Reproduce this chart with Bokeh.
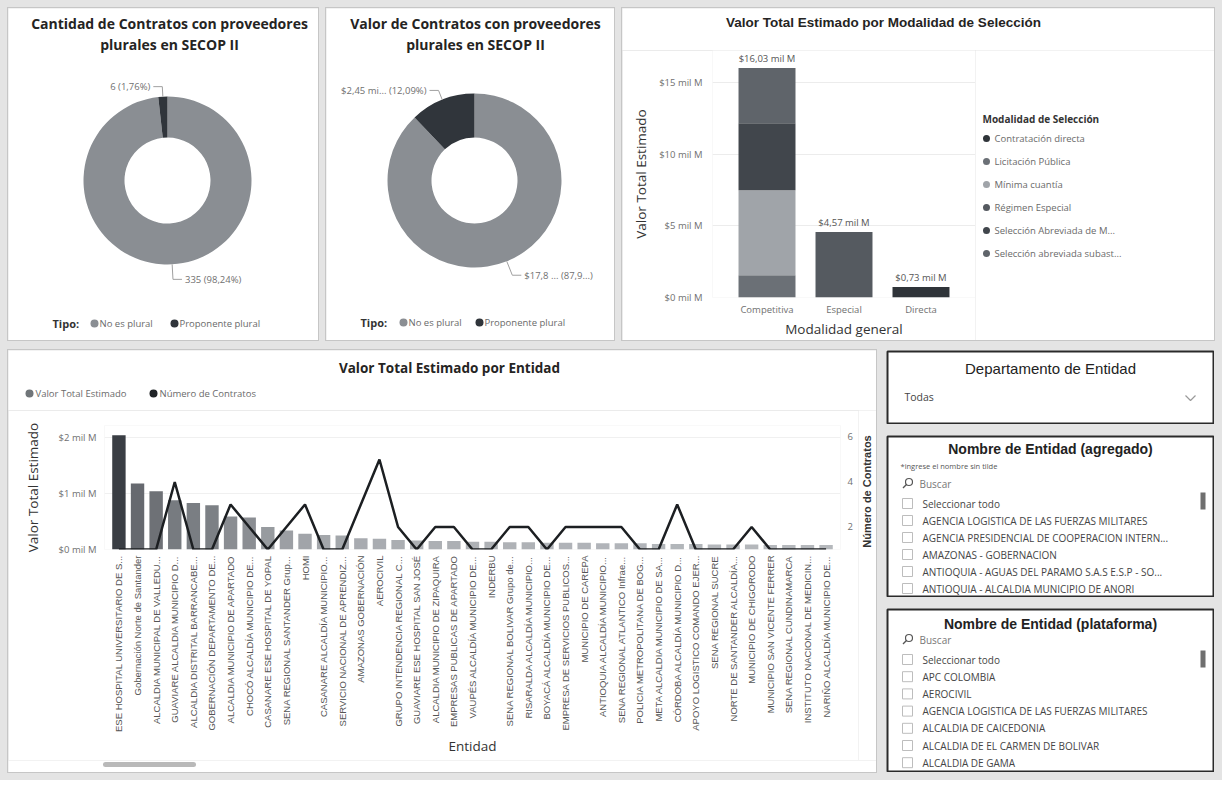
import math
import numpy as np
from bokeh.plotting import figure
from bokeh.layouts import column, row
from bokeh.models import (Range1d, FactorRange, LinearAxis, SingleIntervalTicker,
                          PrintfTickFormatter, ColumnDataSource, Spacer)
from bokeh.core.properties import value
from bokeh.embed import file_html
from bokeh.resources import INLINE

# ---------------- data ----------------
tipo = ["No es plural", "Proponente plural"]
tipo_colores = ["#8a8e93", "#30353b"]
cantidad_contratos = [335, 6]
valor_contratos = [17.81, 2.45]          # mil M
valor_etiquetas = ["$17,8 ... (87,9...)", "$2,45 mi... (12,09%)"]

modalidad_general = ["Competitiva", "Especial", "Directa"]
modalidades = ["Contratación directa", "Licitación Pública", "Mínima cuantía",
               "Régimen Especial", "Selección Abreviada de Menor Cuantía",
               "Selección abreviada subasta inversa"]
modalidades_leyenda = ["Contratación directa", "Licitación Pública", "Mínima cuantía",
                       "Régimen Especial", "Selección Abreviada de M...",
                       "Selección abreviada subast..."]
modalidad_colores = ["#2f3439", "#6b7076", "#a0a4a9", "#555a60", "#41464c", "#5f646a"]
contratacion_directa = [0.0, 0.0, 0.73]
licitacion_publica = [1.55, 0.0, 0.0]
minima_cuantia = [5.94, 0.0, 0.0]
regimen_especial = [0.0, 4.57, 0.0]
seleccion_abreviada_menor = [4.69, 0.0, 0.0]
seleccion_abreviada_subasta = [3.85, 0.0, 0.0]

entidades = [
    "ESE HOSPITAL UNIVERSITARIO DE S...", "Gobernación Norte de Santander",
    "ALCALDIA MUNICIPAL DE VALLEDU...", "GUAVIARE ALCALDIA MUNICIPIO D...",
    "ALCALDIA DISTRITAL BARRANCABE...", "GOBERNACIÓN DEPARTAMENTO DE...",
    "ALCALDIA MUNICIPIO DE APARTADO", "CHOCÓ ALCALDÍA MUNICIPIO DE...",
    "CASANARE ESE HOSPITAL DE YOPAL", "SENA REGIONAL SANTANDER Grup...",
    "HOMI", "CASANARE ALCALDÍA MUNICIPIO...", "SERVICIO NACIONAL DE APRENDIZ...",
    "AMAZONAS GOBERNACIÓN", "AEROCIVIL", "GRUPO INTENDENCIA REGIONAL C...",
    "GUAVIARE ESE HOSPITAL SAN JOSÉ", "ALCALDIA MUNICIPIO DE ZIPAQUIRA",
    "EMPRESAS PUBLICAS DE APARTADO", "VAUPÉS ALCALDÍA MUNICIPIO DE...",
    "INDERBU", "SENA REGIONAL BOLIVAR Grupo de...", "RISARALDA ALCALDÍA MUNICIPIO...",
    "BOYACÁ ALCALDÍA MUNICIPIO DE...", "EMPRESA DE SERVICIOS PUBLICOS...",
    "MUNICIPIO DE CAREPA", "ANTIOQUIA ALCALDÍA MUNICIPIO...",
    "SENA REGIONAL ATLANTICO Infrae...", "POLICIA METROPOLITANA DE BOG...",
    "META ALCALDIA MUNICIPIO DE SA...", "CÓRDOBA ALCALDÍA MUNICIPIO D...",
    "APOYO LOGISTICO COMANDO EJER...", "SENA REGIONAL SUCRE",
    "NORTE DE SANTANDER ALCALDÍA...", "MUNICIPIO DE CHIGORODO",
    "MUNICIPIO SAN VICENTE FERRER", "SENA REGIONAL CUNDINAMARCA",
    "INSTITUTO NACIONAL DE MEDICIN...", "NARIÑO ALCALDÍA MUNICIPIO DE...",
]
valor_entidad = [2.04, 1.18, 1.04, 0.88, 0.83, 0.79, 0.59, 0.57, 0.40, 0.34,
                 0.28, 0.26, 0.25, 0.20, 0.19, 0.17, 0.16, 0.15, 0.15, 0.14,
                 0.14, 0.13, 0.13, 0.12, 0.12, 0.12, 0.11, 0.11, 0.11, 0.10,
                 0.10, 0.10, 0.09, 0.09, 0.09, 0.08, 0.08, 0.08, 0.08]
numero_contratos = [1, 1, 1, 4, 1, 1, 3, 2, 1, 2, 3, 1, 1, 3, 5, 2, 1, 2, 2, 1,
                    1, 2, 2, 1, 2, 2, 2, 2, 1, 1, 3, 1, 1, 1, 2, 1, 1, 1, 1]
serie_nombres = ["Valor Total Estimado", "Número de Contratos"]
serie_colores = ["#707579", "#202427"]

departamento_sel = "Todas"
entidades_agregado = ["Seleccionar todo", "AGENCIA LOGISTICA DE LAS FUERZAS MILITARES",
                      "AGENCIA PRESIDENCIAL DE COOPERACION INTERN...", "AMAZONAS - GOBERNACION",
                      "ANTIOQUIA - AGUAS DEL PARAMO S.A.S E.S.P - SO...",
                      "ANTIOQUIA - ALCALDIA MUNICIPIO DE ANORI"]
entidades_plataforma = ["Seleccionar todo", "APC COLOMBIA", "AEROCIVIL",
                        "AGENCIA LOGISTICA DE LAS FUERZAS MILITARES", "ALCALDIA DE CAICEDONIA",
                        "ALCALDIA DE EL CARMEN DE BOLIVAR", "ALCALDIA DE GAMA"]

# ---------------- style helpers ----------------
SEGOE = "Open Sans"
ARIAL = "Liberation Sans"
TITLE_C = "#252423"
LABEL_C = "#666666"
PAGE_BG = "#e4e4e4"
PANEL_STYLE = {"outline": "1px solid #c6c6c6"}


def no_align(p):
    try:
        p.frame_align = False
    except Exception:
        pass


def canvas_fig(w, h, border=0, outline=None):
    """Blank figure whose frame fills the canvas; 1 data unit = 1 px, y from the top."""
    p = figure(width=w, height=h, x_range=Range1d(0, w - 2 * border),
               y_range=Range1d(h - 2 * border, 0), output_backend="svg",
               toolbar_location=None, min_border_left=border, min_border_right=border,
               min_border_top=border, min_border_bottom=border,
               x_axis_location=None, y_axis_location=None)
    no_align(p)
    p.grid.visible = False
    p.outline_line_color = outline
    if outline:
        p.outline_line_width = 2
    p.background_fill_color = "white"
    p.border_fill_color = "white"
    return p


def txt(p, x, y, t, size, color=LABEL_C, font=SEGOE, style="normal", align="left", angle=0):
    p.text(x=[x], y=[y], text=[t], text_font=value(font), text_font_size=size,
           text_color=color, text_font_style=style, text_align=align,
           text_baseline="middle", angle=angle)


def style_axis(ax):
    ax.axis_line_color = None
    ax.major_tick_line_color = None
    ax.minor_tick_line_color = None
    ax.major_tick_out = 0
    ax.minor_tick_out = 0
    ax.major_label_text_font = SEGOE
    ax.major_label_text_font_size = "9.5px"
    ax.major_label_text_color = "#707070"
    ax.axis_label_text_font = SEGOE
    ax.axis_label_text_font_size = "13.5px"
    ax.axis_label_text_font_style = "normal"
    ax.axis_label_text_color = "#333333"


def donut_fig(w, h, cx, cy, ro, ri, vals, labels, title_lines, title_cx, legend_pos):
    p = canvas_fig(w, h)
    vals = np.array(vals, dtype=float)
    fr = vals / vals.sum()
    cum = np.concatenate([[0.0], np.cumsum(fr)])
    # slices run clockwise from 12 o'clock (angles are drawn in screen orientation)
    start = np.pi / 2 - cum[:-1] * 2 * np.pi
    end = np.pi / 2 - cum[1:] * 2 * np.pi
    src = ColumnDataSource(dict(start=start, end=end, color=tipo_colores, tipo=tipo))
    p.annular_wedge(x=cx, y=cy, inner_radius=ri, outer_radius=ro,
                    start_angle="start", end_angle="end", direction="clock",
                    fill_color="color", line_color=None, source=src)
    mid = (start + end) / 2
    xs, ys, lx, ly, la = [], [], [], [], []
    for m in mid:
        c, s = math.cos(m), -math.sin(m)          # canvas y grows downward
        sgn = 1 if c >= 0 else -1
        ext = 10 if s < 0 else 15
        p0 = (cx + ro * c, cy + ro * s)
        p1 = (cx + (ro + ext) * c, cy + (ro + ext) * s)
        p2 = (p1[0] + sgn * 9, p1[1])
        xs.append([p0[0], p1[0], p2[0]])
        ys.append([p0[1], p1[1], p2[1]])
        lx.append(p2[0] + sgn * 3)
        ly.append(p2[1])
        la.append("left" if sgn > 0 else "right")
    p.multi_line(xs=xs, ys=ys, line_color="#a0a0a0", line_width=1)
    p.text(x=lx, y=ly, text=labels, text_align=la, text_baseline="middle",
           text_font=value(SEGOE), text_font_size="9.5px", text_color="#707070")
    for i, line in enumerate(title_lines):
        txt(p, title_cx, 15 + 21 * i, line, "14px", TITLE_C, SEGOE, "bold", "center")
    lx0, ly0, d1, t1, d2, t2 = legend_pos
    txt(p, lx0, ly0, "Tipo:", "11px", "#333333", SEGOE, "bold")
    p.scatter(x=[d1, d2], y=[ly0, ly0], size=8, marker="circle",
              fill_color=tipo_colores, line_color=None)
    p.text(x=[t1, t2], y=[ly0, ly0], text=tipo, text_baseline="middle",
           text_font=value(SEGOE), text_font_size="9.5px", text_color="#6a6a6a")
    p.styles = PANEL_STYLE
    return p


# ---------------- chart A ----------------
tot_a = sum(cantidad_contratos)
lab_a = [f"{v} ({100 * v / tot_a:.2f}%)".replace(".", ",") for v in cantidad_contratos]
pa = donut_fig(310, 332, 159, 172, 84, 43, cantidad_contratos, lab_a,
               ["Cantidad de Contratos con proveedores", "plurales en SECOP II"], 161,
               (44, 315, 86, 91, 166, 171))

# ---------------- chart B ----------------
pb = donut_fig(288, 332, 148, 172, 87, 43, valor_contratos, valor_etiquetas,
               ["Valor de Contratos con proveedores", "plurales en SECOP II"], 149,
               (34, 314, 77, 82, 153, 158))

# ---------------- chart C ----------------
stack_data = dict(modalidad=modalidad_general)
series = [contratacion_directa, licitacion_publica, minima_cuantia,
          regimen_especial, seleccion_abreviada_menor, seleccion_abreviada_subasta]
for name, vals in zip(modalidades, series):
    stack_data[name] = vals
totales = [sum(s[i] for s in series) for i in range(len(modalidad_general))]
tot_labels = [f"${t:.2f} mil M".replace(".", ",") for t in totales]

hc = canvas_fig(592, 42)
txt(hc, 261, 14, "Valor Total Estimado por Modalidad de Selección", "13.5px", TITLE_C,
    ARIAL, "bold", "center")

pc = figure(width=353, height=290,
            x_range=FactorRange(factors=modalidad_general, range_padding=0.208,
                                range_padding_units="absolute"),
            y_range=Range1d(0, 17.26), output_backend="svg", toolbar_location=None,
            min_border_left=90, min_border_right=0, min_border_top=0,
            min_border_bottom=42)
no_align(pc)
pc.vbar_stack(modalidades, x="modalidad", width=0.74, color=modalidad_colores,
              line_color=None, source=ColumnDataSource(stack_data))
pc.text(x=modalidad_general, y=totales, text=tot_labels, text_align="center",
        text_baseline="bottom", y_offset=-3, text_font=value(SEGOE),
        text_font_size="9.5px", text_color="#555555")
pc.yaxis.ticker = SingleIntervalTicker(interval=5)
pc.yaxis.formatter = PrintfTickFormatter(format="$%d mil M")
pc.yaxis.axis_label = "Valor Total Estimado"
pc.xaxis.axis_label = "Modalidad general"
style_axis(pc.xaxis[0])
style_axis(pc.yaxis[0])
pc.yaxis.major_label_standoff = 10
pc.yaxis.axis_label_standoff = 6
pc.xaxis.major_label_standoff = 5
pc.xaxis.axis_label_standoff = 1
pc.xgrid.visible = False
pc.ygrid.grid_line_color = "#ececec"
pc.outline_line_color = None

# legend panel of chart C (frame covers the whole canvas, y from top)
lc = canvas_fig(239, 290)
txt(lc, 7, 68, "Modalidad de Selección", "10px", "#333333", SEGOE, "bold")
ly_c = [88 + 23 * i for i in range(len(modalidades_leyenda))]
lc.scatter(x=[11] * len(ly_c), y=ly_c, size=7, marker="circle",
           fill_color=modalidad_colores, line_color=None)
lc.text(x=[19] * len(ly_c), y=ly_c, text=modalidades_leyenda, text_baseline="middle",
        text_font=value(SEGOE), text_font_size="9.5px", text_color="#6a6a6a")

chart_c = column(hc, row(pc, lc, spacing=0), spacing=0, styles=PANEL_STYLE)


# ---------------- chart D ----------------
def mix(c1, c2, t):
    a = [int(c1[i:i + 2], 16) for i in (1, 3, 5)]
    b = [int(c2[i:i + 2], 16) for i in (1, 3, 5)]
    return "#%02x%02x%02x" % tuple(int(round(a[k] + (b[k] - a[k]) * t)) for k in range(3))


vmax = max(valor_entidad)
bar_colores = [mix("#c3c6ca", "#3a3e44", (v / vmax) ** 0.7) for v in valor_entidad]
src_d = ColumnDataSource(dict(entidad=entidades, valor=valor_entidad,
                              n=numero_contratos, color=bar_colores))

hd = canvas_fig(868, 60)
txt(hd, 441, 17, "Valor Total Estimado por Entidad", "13.5px", TITLE_C, SEGOE, "bold", "center")
hd.scatter(x=[21, 145], y=[43, 43], size=8, marker="circle", fill_color=serie_colores,
           line_color=None)
hd.text(x=[27, 151], y=[43, 43], text=serie_nombres, text_baseline="middle",
        text_font=value(SEGOE), text_font_size="9.5px", text_color="#6a6a6a")

PD_H, PD_TOP, PD_BOT = 350, 15, 211
pdd = figure(width=850, height=PD_H,
             x_range=FactorRange(factors=entidades, range_padding=0.275,
                                 range_padding_units="absolute"),
             y_range=Range1d(0, 2.214), output_backend="svg", toolbar_location=None,
             min_border_left=96, min_border_right=18, min_border_top=PD_TOP,
             min_border_bottom=PD_BOT)
no_align(pdd)
pdd.extra_y_ranges = {"count": Range1d(1, 6.51)}
pdd.vbar(x="entidad", top="valor", width=0.72, fill_color="color", line_color=None,
         source=src_d)
pdd.line(x="entidad", y="n", y_range_name="count", line_color="#1c1f22",
         line_width=2.5, source=src_d)

ya = pdd.left[0]
ya.ticker = SingleIntervalTicker(interval=1)
ya.formatter = PrintfTickFormatter(format="$%d mil M")
ya.axis_label = "Valor Total Estimado"
ra = LinearAxis(y_range_name="count", ticker=SingleIntervalTicker(interval=2))
pdd.add_layout(ra, "right")
xa = pdd.below[0]
xa.axis_label = "Entidad"
xa.major_label_orientation = math.pi / 2
for ax in (xa, ya, ra):
    style_axis(ax)
xa.major_label_text_font = ARIAL
xa.major_label_text_font_size = "9.5px"
xa.major_label_text_color = "#555555"
xa.major_label_standoff = 6
xa.axis_label_standoff = 2
ya.major_label_standoff = 8
ya.axis_label_standoff = 14
ra.major_label_standoff = 7
pdd.xgrid.visible = False
pdd.ygrid.grid_line_color = "#f0f0f0"
pdd.outline_line_color = None

# title of the secondary (right) axis, reading upward, beside the plot
rl = canvas_fig(18, PD_H)
txt(rl, 8, PD_TOP + (PD_H - PD_TOP - PD_BOT) / 2 + 4, "Número de Contratos", "11px",
    "#333333", ARIAL, "bold", "center", angle=math.pi / 2)

# footer with the horizontal scroll bar
fd = canvas_fig(868, 12)
fd.line(x=[97, 185], y=[4, 4], line_color="#b9b9b9", line_width=5, line_cap="round")

chart_d = column(hd, row(pdd, rl, spacing=0), fd, spacing=0, styles=PANEL_STYLE)


# ---------------- slicers ----------------
def search_icon(p, x, y):
    p.scatter(x=[x + 1.5], y=[y - 1.5], marker="circle", size=7, fill_color=None,
              line_color="#555555", line_width=1.2)
    p.segment(x0=[x - 0.8], y0=[y + 0.8], x1=[x - 4.5], y1=[y + 4.5],
              line_color="#555555", line_width=1.3)


def item_list(p, items, y0, step, thumb):
    ys = [y0 + i * step for i in range(len(items))]
    p.scatter(x=[20] * len(items), y=ys, marker="square", size=10,
              fill_color="white", line_color="#bdbdbd")
    p.text(x=[35] * len(items), y=ys, text=items, text_baseline="middle",
           text_font=value(SEGOE), text_font_size="10px", text_color="#454545")
    p.quad(left=[313], right=[318], top=[thumb[0]], bottom=[thumb[1]],
           fill_color="#6f6f6f", line_color=None)


W_S = 328
s1 = canvas_fig(W_S, 74, border=1, outline="#2a2a2a")
txt(s1, 163, 17, "Departamento de Entidad", "15px", "#222222", ARIAL, "normal", "center")
txt(s1, 17, 45, departamento_sel, "10.5px", "#444444", SEGOE)
s1.line(x=[298, 303, 308], y=[44, 49, 44], line_color="#9a9a9a", line_width=1.2)

s2 = canvas_fig(W_S, 162, border=1, outline="#2a2a2a")
txt(s2, 163, 12, "Nombre de Entidad (agregado)", "14px", "#222222", ARIAL, "bold", "center")
txt(s2, 13, 29, "*ingrese el nombre sin tilde", "7.5px", "#555555", SEGOE)
search_icon(s2, 20, 47)
txt(s2, 32, 47, "Buscar", "10px", "#777777", SEGOE)
item_list(s2, entidades_agregado, 67, 17, (56, 73))

s3 = canvas_fig(W_S, 164, border=1, outline="#2a2a2a")
txt(s3, 163, 14, "Nombre de Entidad (plataforma)", "14px", "#222222", ARIAL, "bold", "center")
search_icon(s3, 20, 30)
txt(s3, 32, 30, "Buscar", "10px", "#777777", SEGOE)
item_list(s3, entidades_plataforma, 50, 17.2, (41, 58))

# ---------------- layout ----------------
top = row(pa, pb, chart_c, spacing=8)
slicers = column(s1, s2, s3, spacing=11)
bottom = row(chart_d, slicers, spacing=10)
inner = column(top, bottom, spacing=10)
page = column(Spacer(height=8), row(Spacer(width=8), inner, Spacer(width=8)),
              Spacer(height=8), styles={"background-color": PAGE_BG})

open("out.html", "w").write(file_html(page, INLINE))
